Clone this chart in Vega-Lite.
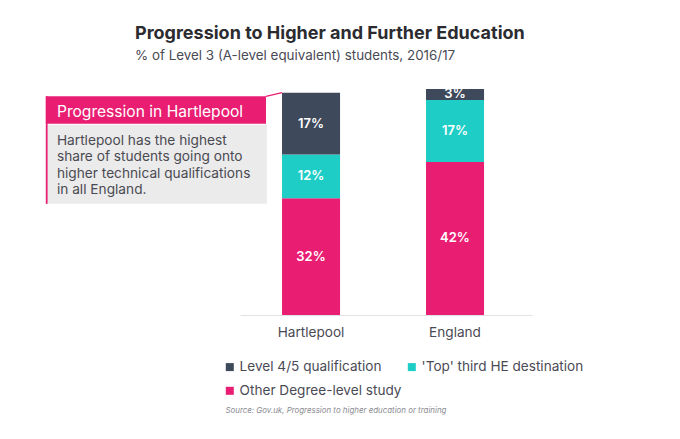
{
  "$schema": "https://vega.github.io/schema/vega-lite/v6.json",
  "autosize": "none",
  "width": 292,
  "height": 226,
  "padding": {"left": 240, "top": 89, "right": 148, "bottom": 124},
  "background": "white",
  "config": {
    "font": "Inter",
    "view": {"stroke": null}
  },
  "title": {
    "text": "Progression to Higher and Further Education",
    "subtitle": "% of Level 3 (A-level equivalent) students, 2016/17",
    "anchor": "start",
    "frame": "group",
    "dx": -105,
    "offset": 26,
    "fontSize": 18,
    "fontWeight": "bold",
    "color": "#2b2b30",
    "subtitleFontSize": 13.4,
    "subtitleColor": "#4a4a55",
    "subtitlePadding": 6
  },
  "layer": [
    {
      "data": {
        "values": [
          {"region": "Hartlepool", "category": "Other Degree-level study", "value": 32},
          {"region": "Hartlepool", "category": "'Top' third HE destination", "value": 12},
          {"region": "Hartlepool", "category": "Level 4/5 qualification", "value": 17},
          {"region": "England", "category": "Other Degree-level study", "value": 42},
          {"region": "England", "category": "'Top' third HE destination", "value": 17},
          {"region": "England", "category": "Level 4/5 qualification", "value": 3}
        ]
      },
      "transform": [
        {"calculate": "indexof(['Other Degree-level study', \"'Top' third HE destination\", 'Level 4/5 qualification'], datum.category)", "as": "rank"},
        {"stack": "value", "groupby": ["region"], "sort": [{"field": "rank"}], "as": ["v0", "v1"]},
        {"calculate": "(datum.v0 + datum.v1) / 2", "as": "mid"},
        {"calculate": "datum.value + '%'", "as": "label"}
      ],
      "encoding": {
        "x": {
          "field": "region", "type": "nominal", "sort": ["Hartlepool", "England"],
          "scale": {"paddingInner": 0.597, "paddingOuter": 0.3125, "align": 0.467},
          "axis": {
            "title": "Source: Gov.uk, Progression to higher education or training",
            "titleFontSize": 7.9, "titleFontStyle": "italic", "titleFontWeight": "normal",
            "titleColor": "#8a8a90", "titleX": -15, "titleY": 95,
            "titleAlign": "left", "titleBaseline": "middle", "titleAnchor": "start",
            "labelAngle": 0, "labelFontSize": 13.6, "labelColor": "#4a4a55", "labelPadding": 10,
            "ticks": false, "domainColor": "#e2e2e6", "domainWidth": 1.2
          }
        }
      },
      "layer": [
        {
          "mark": {"type": "bar"},
          "encoding": {
            "y": {"field": "v1", "type": "quantitative", "scale": {"domain": [0, 62], "nice": false}, "axis": null},
            "y2": {"field": "v0"},
            "color": {
              "field": "category", "type": "nominal",
              "scale": {
                "domain": ["Level 4/5 qualification", "'Top' third HE destination", "Other Degree-level study"],
                "range": ["#3e4a5b", "#1ecdc5", "#e91e72"]
              },
              "legend": {
                "title": null, "orient": "none", "direction": "horizontal", "columns": 2,
                "legendX": -17, "legendY": 271,
                "symbolType": "square", "symbolSize": 64, "symbolStrokeWidth": 0,
                "labelFontSize": 13.6, "labelColor": "#4a4a55", "labelOffset": 3,
                "rowPadding": 9, "columnPadding": 3, "labelLimit": 300
              }
            }
          }
        },
        {
          "mark": {"type": "text", "color": "white", "fontSize": 13, "fontWeight": 600, "baseline": "middle"},
          "encoding": {
            "y": {"field": "mid", "type": "quantitative"},
            "text": {"field": "label"}
          }
        }
      ]
    },
    {
      "data": {"values": [{"head": "Progression in Hartlepool", "body": ["Hartlepool has the highest", "share of students going onto", "higher technical qualifications", "in all England."]}]},
      "layer": [
        {
          "mark": {"type": "rect", "color": "#ebebeb"},
          "encoding": {
            "x": {"datum": -66.5, "type": "quantitative", "scale": {"domain": [0, 100], "nice": false, "zero": false}, "axis": null},
            "x2": {"datum": 9.2},
            "y": {"datum": 52.2},
            "y2": {"datum": 30.5}
          }
        },
        {
          "mark": {"type": "rect", "color": "#e91e72"},
          "encoding": {
            "x": {"datum": -66.5, "type": "quantitative"},
            "x2": {"datum": 8.9},
            "y": {"datum": 60},
            "y2": {"datum": 52.5}
          }
        },
        {
          "mark": {"type": "rect", "color": "#e91e72"},
          "encoding": {
            "x": {"datum": -66.5, "type": "quantitative"},
            "x2": {"datum": -65.9},
            "y": {"datum": 60},
            "y2": {"datum": 30.5}
          }
        },
        {
          "mark": {"type": "rule", "color": "#e91e72", "strokeWidth": 1.2},
          "encoding": {
            "x": {"datum": 8.9, "type": "quantitative"},
            "x2": {"datum": 14.4},
            "y": {"datum": 60},
            "y2": {"datum": 61}
          }
        },
        {
          "mark": {"type": "text", "color": "white", "fontSize": 15.6, "align": "left", "baseline": "middle"},
          "encoding": {
            "x": {"datum": -62.7, "type": "quantitative"},
            "y": {"datum": 55.8},
            "text": {"field": "head"}
          }
        },
        {
          "mark": {"type": "text", "color": "#4a4a52", "fontSize": 13.7, "align": "left", "baseline": "middle", "lineHeight": 16.5},
          "encoding": {
            "x": {"datum": -62.7, "type": "quantitative"},
            "y": {"datum": 47.8},
            "text": {"field": "body"}
          }
        }
      ]
    }
  ],
  "resolve": {"scale": {"x": "independent"}}
}
